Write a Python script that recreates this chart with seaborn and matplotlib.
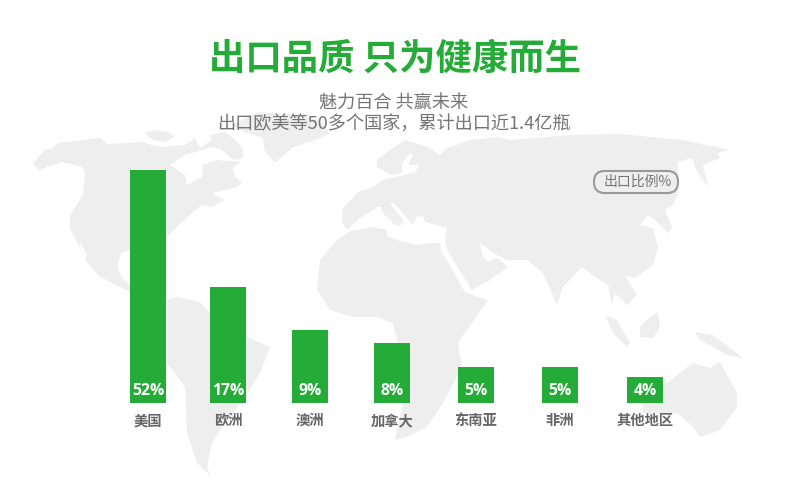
import matplotlib
matplotlib.use("Agg")
import matplotlib.pyplot as plt
from matplotlib.patches import FancyBboxPatch, Polygon
import pandas as pd
import seaborn as sns

regions = ["美国", "欧洲", "澳洲", "加拿大", "东南亚", "非洲", "其他地区"]
share_labels = ["52%", "17%", "9%", "8%", "5%", "5%", "4%"]
# drawn height of each bar, the picture does not scale them to the labels
bar_heights = [233, 116, 73, 60, 36, 36, 26]

title = "出口品质 只为健康而生"
subtitle_1 = "魅力百合 共赢未来"
subtitle_2 = "出口欧美等50多个国家，累计出口近1.4亿瓶"
badge = "出口比例%"

# layout, bars are not evenly spaced in the reference
bar_centers = [148, 228, 310, 392, 476, 560, 645]

GREEN = "#25ab38"
LAND = "#eeeeee"
GREY = "#666666"
LIGHT_GREY = "#757575"

# background map outlines, in image pixels
land = [
    # north america
    [(33, 163), (45, 150), (53, 148), (58, 143), (100, 138), (107, 144), (142, 142), (160, 147),
     (185, 145), (195, 138), (200, 148), (212, 140), (210, 135), (225, 132), (238, 142), (243, 150),
     (243, 160), (233, 168), (235, 177), (242, 182), (238, 187), (212, 193), (225, 200), (212, 207),
     (202, 205), (182, 222), (166, 238), (160, 250), (140, 248), (122, 252), (117, 265), (122, 278),
     (130, 285), (167, 300), (160, 303), (130, 292), (100, 277), (87, 262), (70, 228), (70, 215),
     (83, 195), (85, 172), (82, 167), (62, 162), (38, 170)],
    # greenland and arctic islands
    [(232, 125), (258, 112), (300, 115), (322, 122), (330, 133), (315, 140), (292, 148), (275, 163),
     (265, 152), (263, 138), (245, 132)],
    [(145, 133), (153, 130), (168, 132), (175, 137), (165, 142), (153, 140)],
    # south america
    [(167, 300), (177, 297), (200, 302), (220, 323), (247, 337), (270, 347), (260, 373), (243, 400),
     (227, 420), (212, 443), (207, 467), (210, 475), (197, 463), (187, 433), (185, 387), (167, 363),
     (167, 327)],
    # eurasia
    [(343, 208), (353, 198), (358, 192), (373, 187), (383, 180), (397, 177), (415, 172), (420, 165),
     (408, 165), (413, 155), (410, 153), (402, 163), (402, 173), (392, 175), (377, 167), (377, 160),
     (387, 152), (405, 140), (428, 147), (440, 155), (447, 148), (470, 140), (497, 137), (510, 140),
     (573, 135), (620, 134), (682, 140), (730, 150), (718, 153), (720, 158), (703, 165), (708, 187),
     (697, 172), (692, 158), (678, 162), (678, 195), (673, 205), (665, 210), (672, 228), (668, 233),
     (657, 222), (648, 215), (640, 225), (653, 228), (658, 248), (653, 265), (635, 278), (625, 275),
     (637, 295), (627, 305), (615, 293), (612, 305), (608, 285), (597, 278), (582, 267), (563, 287),
     (557, 305), (543, 273), (527, 260), (507, 260), (493, 253), (480, 243), (483, 257), (488, 262),
     (498, 258), (508, 267), (490, 280), (472, 290), (447, 250), (445, 240), (447, 228), (425, 222),
     (423, 216), (416, 217), (413, 225), (394, 203), (390, 204), (404, 221), (400, 226), (395, 225),
     (384, 214), (380, 206), (373, 210), (360, 218), (347, 230), (342, 222)],
    # africa
    [(350, 231), (373, 227), (387, 230), (387, 236), (400, 241), (417, 245), (430, 243), (440, 243),
     (441, 250), (465, 292), (475, 296), (488, 300), (458, 343), (462, 367), (443, 403), (427, 427),
     (407, 437), (395, 440), (403, 403), (400, 353), (393, 323), (377, 317), (353, 317), (330, 310),
     (317, 290), (320, 260), (337, 240)],
    # islands
    [(605, 315), (617, 320), (630, 343), (627, 347), (613, 333)],
    [(658, 312), (660, 327), (653, 338), (640, 337), (640, 327), (650, 317)],
    [(695, 332), (713, 335), (743, 358), (727, 355), (713, 347), (700, 340)],
    # australia
    [(643, 403), (667, 383), (693, 363), (710, 368), (720, 362), (737, 393), (737, 407), (720, 430),
     (700, 437), (693, 427), (677, 413), (643, 413)],
]
# water cut out of the land
water = [
    [(170, 165), (185, 155), (212, 147), (222, 150), (233, 160), (245, 158), (243, 162), (217, 160),
     (203, 165), (202, 177), (187, 185), (185, 175)],
    [(80, 241), (87, 255), (85, 260), (81, 250)],
]

sns.set_theme(style="white")
plt.rcParams["font.family"] = ["Noto Sans CJK SC", "DejaVu Sans"]

fig = plt.figure(figsize=(7.9, 4.94), dpi=100)

# full picture axes for the map and the heading
bg = fig.add_axes([0, 0, 1, 1])
bg.set_xlim(0, 790)
bg.set_ylim(494, 0)
bg.axis("off")
for shape in land:
    bg.add_patch(Polygon(shape, closed=True, fc=LAND, ec="none"))
for shape in water:
    bg.add_patch(Polygon(shape, closed=True, fc="white", ec="none"))

bg.text(395, 59, title, color=GREEN, fontsize=26.2, fontweight="bold", ha="center", va="center")
bg.text(394, 104, subtitle_1, color=LIGHT_GREY, fontsize=13.1, ha="center", va="center")
bg.text(394, 125, subtitle_2, color=LIGHT_GREY, fontsize=13.1, ha="center", va="center")

bg.add_patch(FancyBboxPatch((594, 171), 84, 22, boxstyle="round,pad=0,rounding_size=10.5",
                            fc="none", ec="#999999", lw=1.5))
bg.text(638, 181.5, badge, color=LIGHT_GREY, fontsize=10, ha="center", va="center")

# bar axes, one unit is one pixel
ax = fig.add_axes([0, (494 - 403) / 494, 1, 233 / 494])
ax.patch.set_alpha(0)
data = pd.DataFrame({"x": bar_centers, "height": bar_heights})
sns.barplot(data=data, x="x", y="height", native_scale=True, color=GREEN, saturation=1,
            width=36 / 80, linewidth=0, ax=ax)
ax.set_xlim(0, 790)
ax.set_ylim(0, 233)
ax.set_xlabel("")
ax.set_ylabel("")
ax.set_yticks([])
ax.set_xticks(bar_centers, labels=regions)
ax.tick_params(axis="x", length=0, pad=8, colors=GREY, labelsize=10.3)
for tick in ax.get_xticklabels():
    tick.set_fontweight("bold")
sns.despine(ax=ax, left=True, bottom=True)

for x, label in zip(bar_centers, share_labels):
    ax.annotate(label, (x, 0), xytext=(0, 12), textcoords="offset pixels", ha="center", va="center",
                color="white", fontsize=11.3, fontweight="bold", family=["Open Sans", "DejaVu Sans"])

fig.savefig("out.png", dpi=100)
